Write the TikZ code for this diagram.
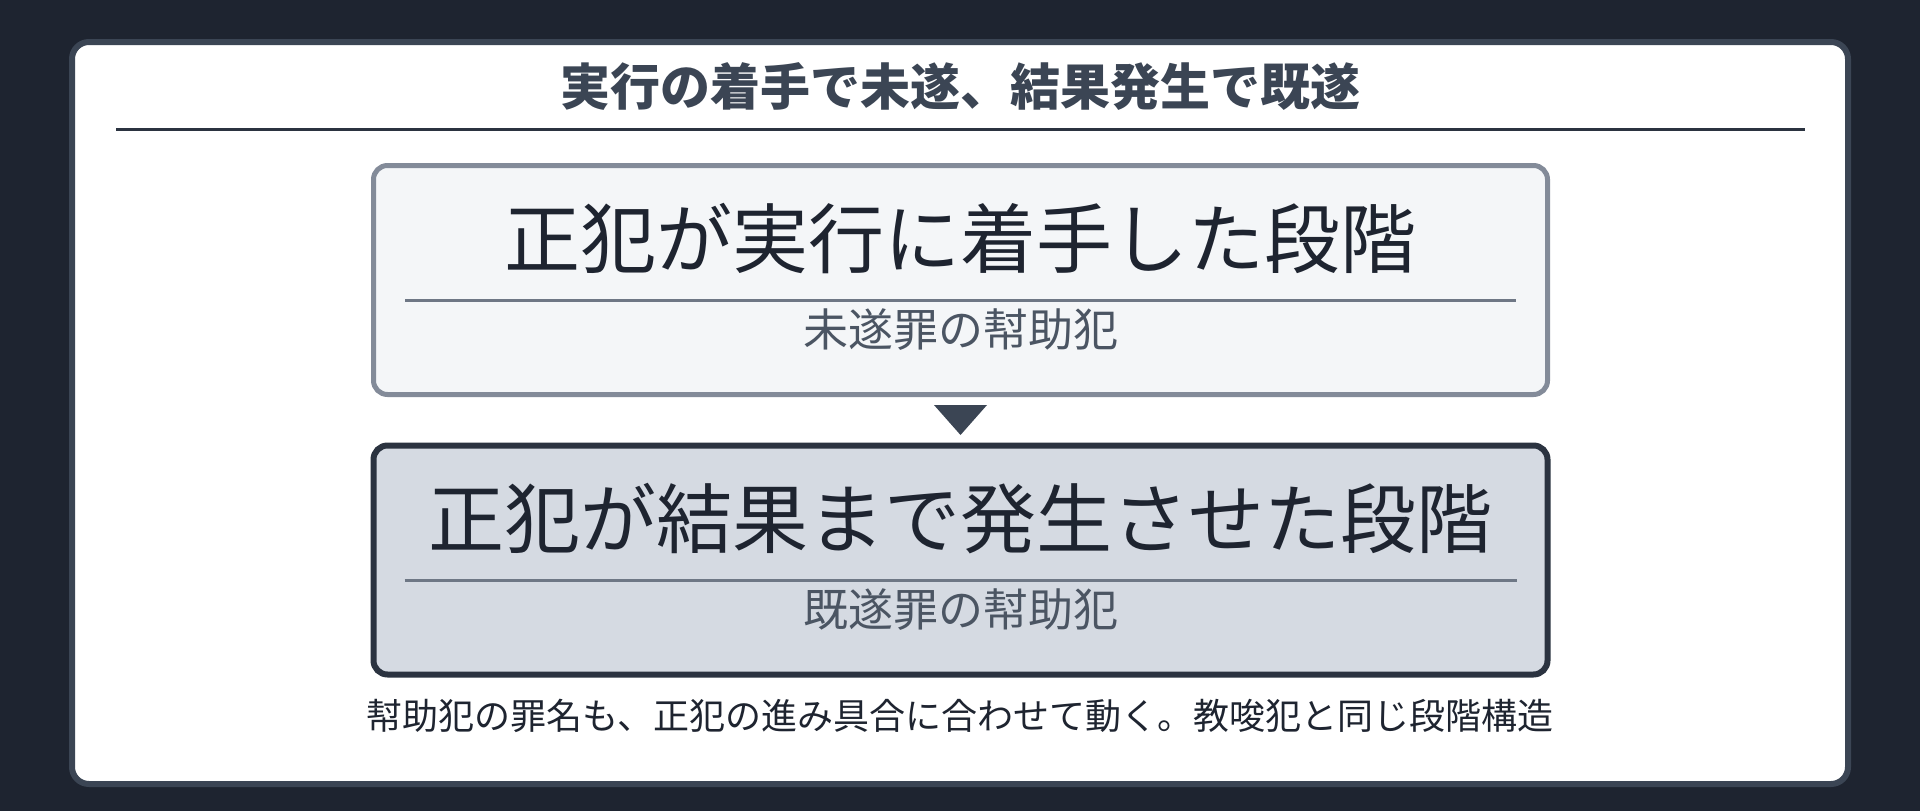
\documentclass[tikz,border=0pt]{standalone}
\usepackage{fontspec}
\setmainfont{Noto Sans CJK JP}
\usetikzlibrary{positioning,calc}
\definecolor{pagebg}{HTML}{1E2430}
\definecolor{slate}{HTML}{3B4554}
\definecolor{ink}{HTML}{1E2430}
\definecolor{rulegray}{HTML}{6E7785}
\definecolor{subgray}{HTML}{4B5563}
\definecolor{upfill}{HTML}{F4F6F8}
\definecolor{upline}{HTML}{838B99}
\definecolor{downfill}{HTML}{D5DAE2}
\definecolor{downline}{HTML}{2B3340}

\begin{document}
\begin{tikzpicture}[x=1pt,y=-1pt,
   card/.style={draw=slate, line width=6pt, fill=white, rounded corners=17pt,
     minimum width=1776pt, minimum height=742pt, inner sep=0pt},
   stagebox/.style={rounded corners=14pt, minimum width=1174pt,
     minimum height=229pt, inner sep=0pt},
   bigtext/.style={text=ink, font=\fontsize{76}{80}\selectfont, inner sep=0pt},
   subtext/.style={text=subgray, font=\fontsize{45}{50}\selectfont, inner sep=0pt}]
   \useasboundingbox (0,0) rectangle (1920,811);
   \fill[pagebg] (0,0) rectangle (1920,811);
   \node[card] (card) at (960,413) {};
   \node[text=slate, font=\bfseries\fontsize{50}{56}\selectfont] (title) at (960,86) {実行の着手で未遂、結果発生で既遂};
   \draw[downline, line width=3pt] (116,129) -- (1805,129);
   % stages
   \node[stagebox, draw=upline, fill=upfill, line width=5pt] (attempt) at (960.5,280) {};
   \node[bigtext] (attemptmain) at ($(attempt.north)+(0,76)$) {正犯が実行に着手した段階};
   \draw[rulegray, line width=3pt] ($(attempt.north west)+(34,137.5)$) -- ($(attempt.north east)+(-34,137.5)$);
   \node[subtext] (attemptsub) at ($(attempt.north)+(0,167)$) {未遂罪の幇助犯};
   \node[stagebox, draw=downline, fill=downfill, line width=6pt] (result) at (960.5,560) {};
   \node[bigtext] (resultmain) at ($(result.north)+(0,76)$) {正犯が結果まで発生させた段階};
   \draw[rulegray, line width=3pt] ($(result.north west)+(34,137.5)$) -- ($(result.north east)+(-34,137.5)$);
   \node[subtext] (resultsub) at ($(result.north)+(0,167)$) {既遂罪の幇助犯};
   % marker between the stages
   \coordinate (tipl) at ($(attempt.south)+(-26.5,8)$);
   \coordinate (tipr) at ($(attempt.south)+(26.5,8)$);
   \coordinate (tip) at ($(attempt.south)+(0,38)$);
   \fill[slate] (tipl) -- (tipr) -- (tip) -- cycle;
   \node[text=ink, font=\fontsize{36}{40}\selectfont] (note) at (960,716) {幇助犯の罪名も、正犯の進み具合に合わせて動く。教唆犯と同じ段階構造};
\end{tikzpicture}
\end{document}
